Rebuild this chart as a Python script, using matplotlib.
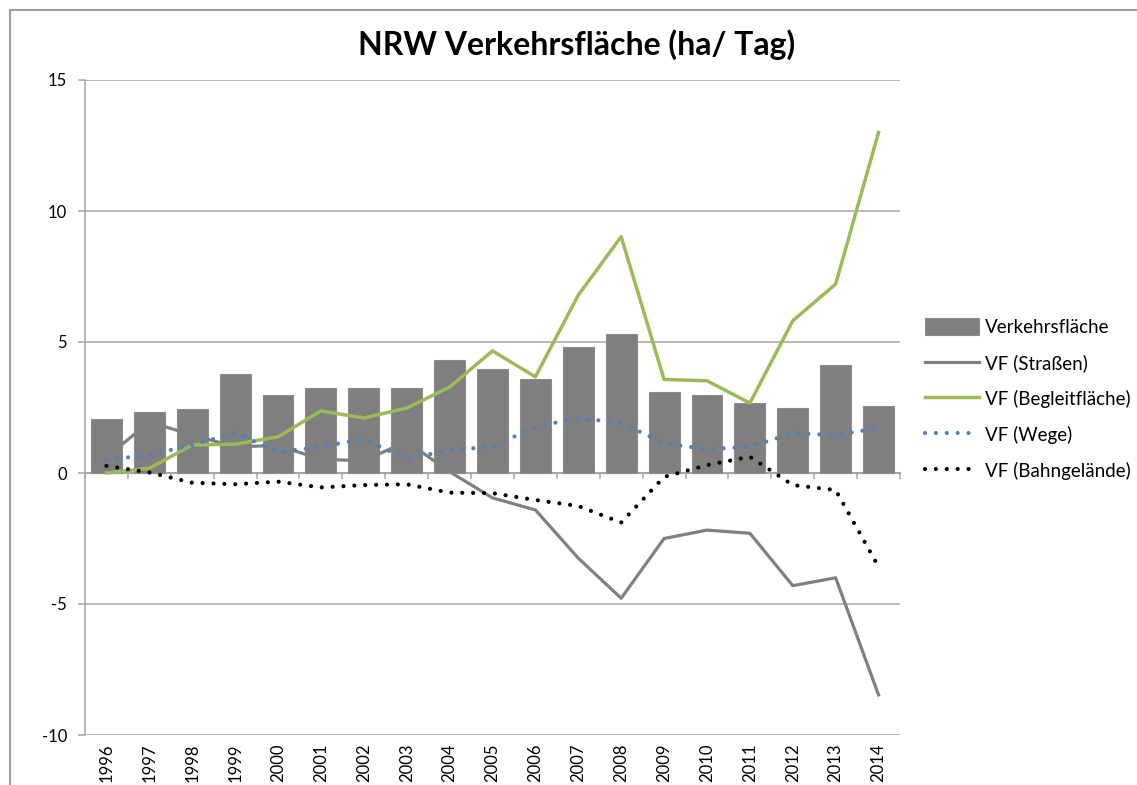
import matplotlib
matplotlib.use("Agg")
import matplotlib.pyplot as plt
from matplotlib.lines import Line2D
import numpy as np

# data
years = [str(y) for y in range(1996, 2015)]
verkehrsflaeche = [2.06, 2.33, 2.44, 3.76, 2.98, 3.24, 3.24, 3.24, 4.31, 3.98,
                   3.59, 4.81, 5.32, 3.09, 2.98, 2.67, 2.50, 4.12, 2.56]
strassen = [0.6, 1.95, 1.45, 1.0, 1.05, 0.52, 0.47, 1.2, 0.05, -0.95,
            -1.41, -3.25, -4.78, -2.5, -2.18, -2.3, -4.3, -4.0, -8.47]
begleitflaeche = [0.0, 0.18, 1.07, 1.1, 1.38, 2.37, 2.1, 2.48, 3.28, 4.66,
                  3.67, 6.79, 9.02, 3.57, 3.52, 2.67, 5.81, 7.21, 13.0]
wege = [0.5, 0.69, 1.07, 1.53, 0.8, 1.0, 1.3, 0.53, 0.88, 1.0,
        1.77, 2.09, 1.92, 1.13, 0.91, 1.0, 1.52, 1.44, 1.72]
bahngelaende = [0.27, 0.02, -0.37, -0.43, -0.33, -0.55, -0.46, -0.43, -0.75, -0.77,
                -1.03, -1.26, -1.89, -0.15, 0.3, 0.62, -0.46, -0.65, -3.58]

plt.rcParams['font.family'] = ['Lato', 'DejaVu Sans']
plt.rcParams['axes.unicode_minus'] = False

W, H = 1137, 785
fig = plt.figure(figsize=(W / 100, H / 100), dpi=100)
ax = fig.add_axes([85 / W, 50 / H, 815 / W, 655 / H])

x = np.arange(len(years))
grid_c = '#a6a6a6'

bars = ax.bar(x, verkehrsflaeche, width=0.72, color='#7f7f7f', edgecolor='#8c8c8c',
              linewidth=0.8, label='Verkehrsfläche', zorder=2)
l1, = ax.plot(x, strassen, color='#808080', lw=2.3, label='VF (Straßen)', zorder=3)
l2, = ax.plot(x, begleitflaeche, color='#9bbb59', lw=2.5, label='VF (Begleitfläche)', zorder=3)
l3, = ax.plot(x, wege, color='#4f81bd', lw=3.0, linestyle=(0, (0.01, 2.6)),
              dash_capstyle='round', label='VF (Wege)', zorder=4)
l4, = ax.plot(x, bahngelaende, color='black', lw=3.0, linestyle=(0, (0.01, 2.6)),
              dash_capstyle='round', label='VF (Bahngelände)', zorder=4)

ax.set_xlim(-0.5, len(years) - 0.5)
ax.set_ylim(-10, 15)
ax.set_yticks([-10, -5, 0, 5, 10, 15])
ax.yaxis.grid(True, color=grid_c, lw=1.1)
ax.set_axisbelow(True)

for s in ['top', 'right', 'bottom']:
    ax.spines[s].set_visible(False)
ax.spines['left'].set_color(grid_c)
ax.spines['left'].set_linewidth(1.1)

ax.tick_params(axis='y', length=5, width=1.1, color=grid_c, pad=8, labelsize=12)
ax.set_xticks(x)
ax.set_xticklabels(years, rotation=90, va='top', ha='center')
ax.tick_params(axis='x', length=0, pad=6, labelsize=12)

# category axis crossing at zero with ticks between categories
sec = ax.secondary_xaxis(0.4)
sec.set_xticks(np.arange(-0.5, len(years), 1.0))
sec.set_xticklabels([])
sec.spines['bottom'].set_color(grid_c)
sec.spines['bottom'].set_linewidth(1.5)
sec.tick_params(axis='x', length=4, width=1.1, color=grid_c)

fig.text(0.507, 0.943, 'NRW Verkehrsfläche (ha/ Tag)', ha='center', va='center',
         fontsize=23, fontweight='bold')

ax.legend([bars, l1, l2, l3, l4],
          ['Verkehrsfläche', 'VF (Straßen)', 'VF (Begleitfläche)', 'VF (Wege)', 'VF (Bahngelände)'],
          loc='center left', bbox_to_anchor=(925 / W, (H - 399) / H),
          bbox_transform=fig.transFigure, frameon=False, fontsize=13.5,
          handlelength=2.9, handleheight=1.0, handletextpad=0.3,
          labelspacing=0.95, borderpad=0, borderaxespad=0)

# chart border (left and top edges only)
fig.add_artist(Line2D([10 / W, 10 / W], [0, (H - 10) / H], transform=fig.transFigure,
                      color='#a0a0a0', lw=1.5))
fig.add_artist(Line2D([10 / W, 1], [(H - 10) / H, (H - 10) / H], transform=fig.transFigure,
                      color='#a0a0a0', lw=1.5))

fig.savefig('out.png', dpi=100)
